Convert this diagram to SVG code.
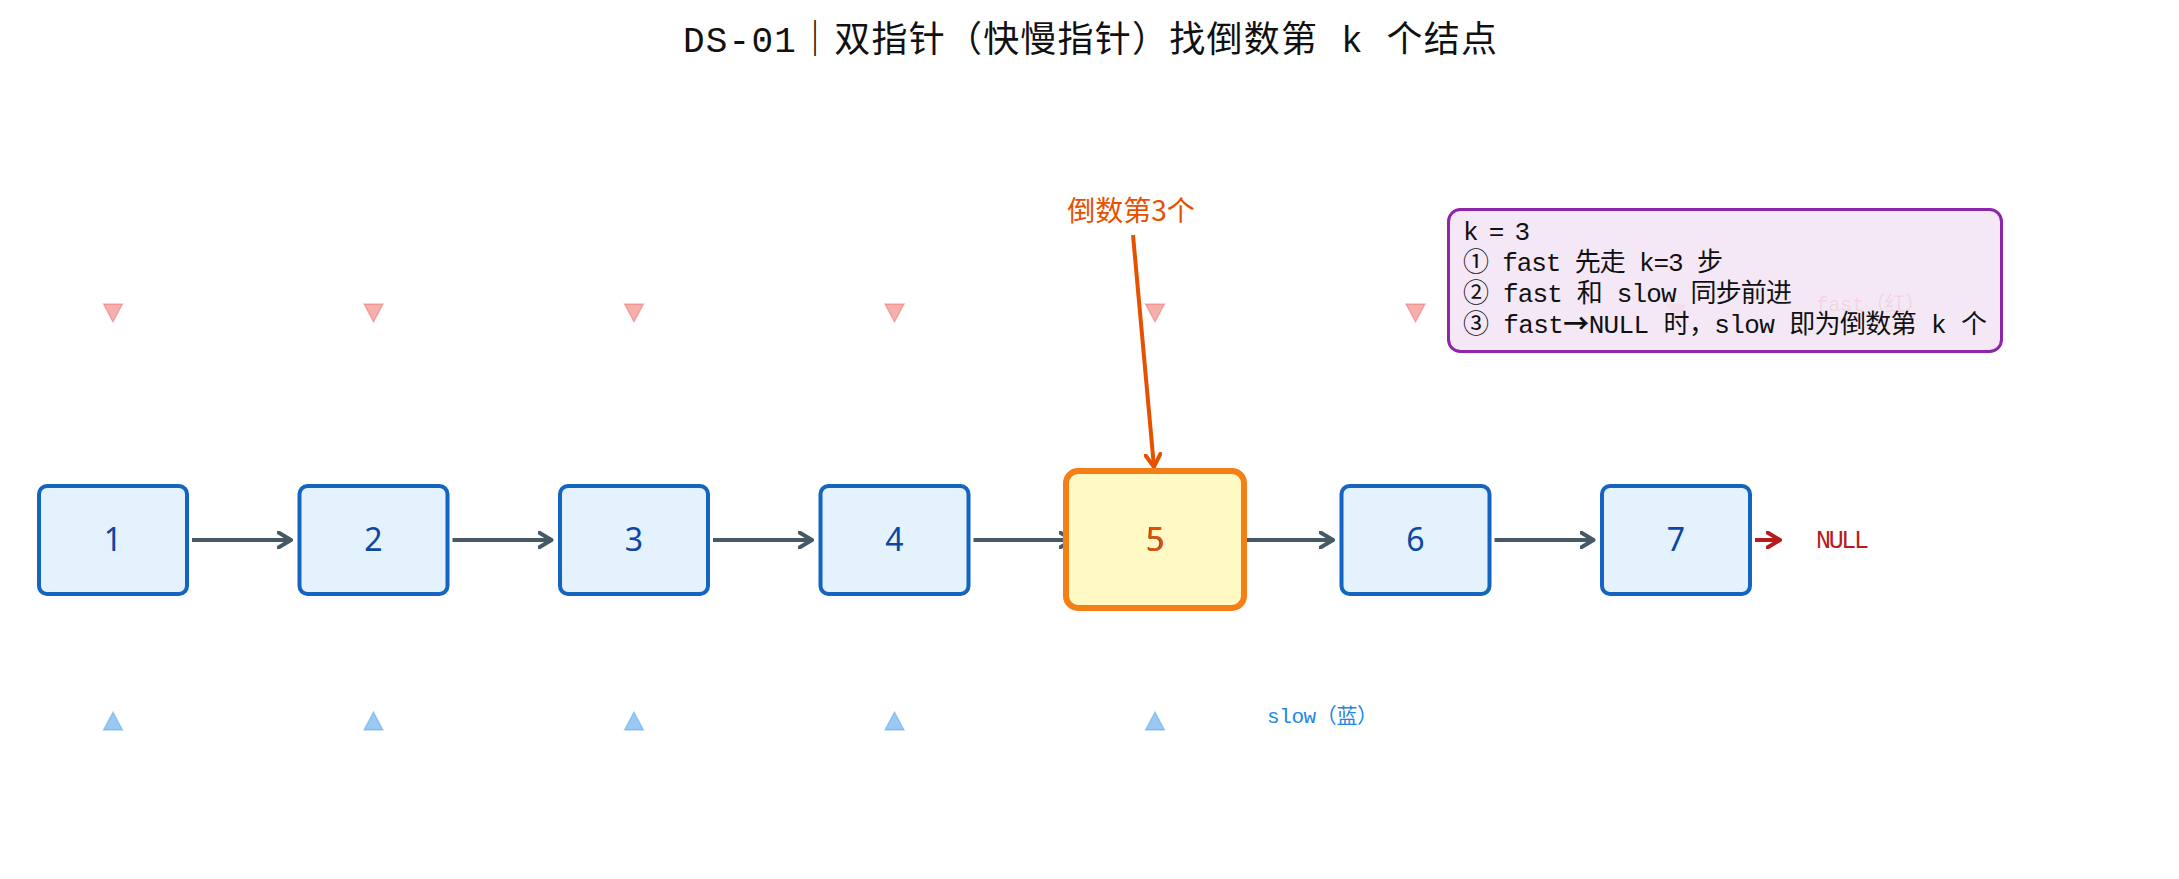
<svg xmlns="http://www.w3.org/2000/svg" width="2179" height="879" viewBox="0 0 2179 879">
<style>
.title{font-family:"Liberation Mono","Noto Sans CJK SC",monospace;font-size:36px;fill:#111}
.node rect{fill:#E3F2FD;stroke:#1565C0;stroke-width:4}
.num{font-family:"Noto Sans","Noto Sans CJK SC",sans-serif;font-size:32px;fill:#0D47A1;text-anchor:middle}
.conn{stroke:#455A64;stroke-width:4;fill:none}
.note{font-family:"Liberation Mono","Noto Sans CJK SC",monospace;font-size:26px;fill:#111}
.mono{font-family:"Liberation Mono","Noto Sans CJK SC",monospace}
.tri-r{fill:#e53935;fill-opacity:0.4;stroke:#e53935;stroke-opacity:0.3;stroke-width:1.5}
.tri-b{fill:#1e88e5;fill-opacity:0.45;stroke:#1e88e5;stroke-opacity:0.3;stroke-width:1.5}
</style>
<defs>
<marker id="ah" viewBox="0 0 16 18" refX="14" refY="9" markerWidth="16" markerHeight="18" markerUnits="userSpaceOnUse" orient="auto">
<path d="M1.5,1.5 L14,9 L1.5,16.5" fill="none" stroke="#455A64" stroke-width="4" stroke-linecap="round" stroke-linejoin="round"/>
</marker>
<marker id="ahr" viewBox="0 0 16 18" refX="14" refY="9" markerWidth="16" markerHeight="18" markerUnits="userSpaceOnUse" orient="auto">
<path d="M1.5,1.5 L14,9 L1.5,16.5" fill="none" stroke="#B71C1C" stroke-width="4" stroke-linecap="round" stroke-linejoin="round"/>
</marker>
<marker id="aho" viewBox="0 0 16 18" refX="14" refY="9" markerWidth="16" markerHeight="18" markerUnits="userSpaceOnUse" orient="auto">
<path d="M1.5,1.5 L14,9 L1.5,16.5" fill="none" stroke="#E65100" stroke-width="4" stroke-linecap="round" stroke-linejoin="round"/>
</marker>
</defs>
<rect width="2179" height="879" fill="#ffffff"/>
<text class="title" x="683" y="52" textLength="814" lengthAdjust="spacing">DS-01｜双指针（快慢指针）找倒数第 k 个结点</text>

<g id="fast-markers">
<polygon class="tri-r" points="103.5,304 122.5,304 113,322"/>
<polygon class="tri-r" points="364,304 383,304 373.5,322"/>
<polygon class="tri-r" points="624.5,304 643.5,304 634,322"/>
<polygon class="tri-r" points="885,304 904,304 894.5,322"/>
<polygon class="tri-r" points="1145.5,304 1164.5,304 1155,322"/>
<polygon class="tri-r" points="1406,304 1425,304 1415.5,322"/>
<polygon class="tri-r" points="1666.5,304 1685.5,304 1676,322"/>
</g>
<text x="1816" y="311" font-size="21" fill="#E53935" class="mono" textLength="110" lengthAdjust="spacing">fast（红）</text>

<g id="note">
<rect x="1448.5" y="209.5" width="553" height="142" rx="12" fill="#F3E5F5" fill-opacity="0.9" stroke="#8E24AA" stroke-width="3"/>
<text class="note" x="1463" y="240" textLength="67" lengthAdjust="spacing">k = 3</text>
<text class="note" x="1463" y="271" textLength="260" lengthAdjust="spacing">① fast 先走 k=3 步</text>
<text class="note" x="1463" y="302" textLength="329" lengthAdjust="spacing">② fast 和 slow 同步前进</text>
<text class="note" x="1463" y="333" textLength="524" lengthAdjust="spacing">③ fast<tspan font-family="Noto Sans CJK SC" font-weight="bold">→</tspan>NULL 时，slow 即为倒数第 k 个</text>
</g>

<g id="connectors">
<path class="conn" d="M192,540 L291,540" marker-end="url(#ah)"/>
<path class="conn" d="M452.5,540 L551.5,540" marker-end="url(#ah)"/>
<path class="conn" d="M713,540 L812,540" marker-end="url(#ah)"/>
<path class="conn" d="M973.5,540 L1072.5,540" marker-end="url(#ah)"/>
<path class="conn" d="M1234,540 L1333,540" marker-end="url(#ah)"/>
<path class="conn" d="M1494.5,540 L1593.5,540" marker-end="url(#ah)"/>
<path d="M1755,540 L1780,540" stroke="#B71C1C" stroke-width="4" fill="none" marker-end="url(#ahr)"/>
<path d="M1133,235 L1154,467" stroke="#E65100" stroke-width="4" fill="none" marker-end="url(#aho)"/>
</g>

<g id="node1" class="node"><rect x="39" y="486" width="148" height="108" rx="8"/><text class="num" x="113" y="551">1</text></g>
<g id="node2" class="node"><rect x="299.5" y="486" width="148" height="108" rx="8"/><text class="num" x="373.5" y="551">2</text></g>
<g id="node3" class="node"><rect x="560" y="486" width="148" height="108" rx="8"/><text class="num" x="634" y="551">3</text></g>
<g id="node4" class="node"><rect x="820.5" y="486" width="148" height="108" rx="8"/><text class="num" x="894.5" y="551">4</text></g>
<g id="node5"><rect x="1066" y="471" width="178" height="137" rx="12" fill="#FFF9C4" stroke="#F57F17" stroke-width="6"/><text class="num" x="1155" y="551">5</text><text x="1155.5" y="551" font-family="Noto Sans,sans-serif" font-size="33" fill="#E65100" text-anchor="middle">5</text></g>
<g id="node6" class="node"><rect x="1341.5" y="486" width="148" height="108" rx="8"/><text class="num" x="1415.5" y="551">6</text></g>
<g id="node7" class="node"><rect x="1602" y="486" width="148" height="108" rx="8"/><text class="num" x="1676" y="551">7</text></g>

<text x="1816" y="548" font-size="25" fill="#B71C1C" class="mono" textLength="53" lengthAdjust="spacing">NULL</text>
<text x="1131" y="221" font-family="Noto Sans CJK SC,sans-serif" font-size="28" fill="#E65100" text-anchor="middle">倒数第3个</text>

<g id="slow-markers">
<polygon class="tri-b" points="113,712 103.5,730 122.5,730"/>
<polygon class="tri-b" points="373.5,712 364,730 383,730"/>
<polygon class="tri-b" points="634,712 624.5,730 643.5,730"/>
<polygon class="tri-b" points="894.5,712 885,730 904,730"/>
<polygon class="tri-b" points="1155,712 1145.5,730 1164.5,730"/>
</g>
<text x="1267" y="723" font-size="21" fill="#1E88E5" class="mono" textLength="111" lengthAdjust="spacing">slow（蓝）</text>
</svg>
